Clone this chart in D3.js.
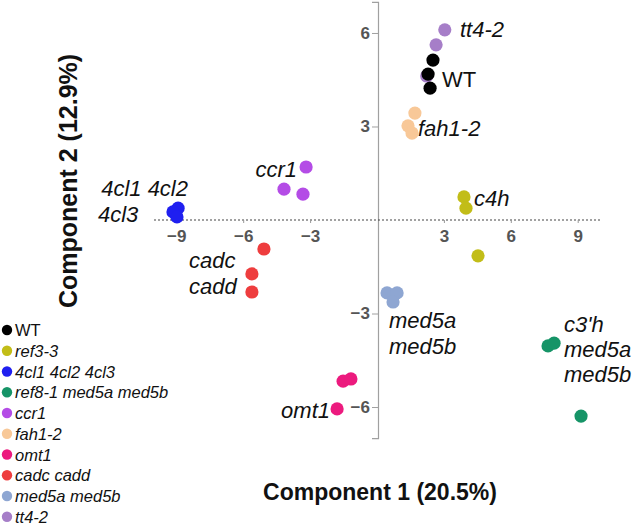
<!DOCTYPE html>
<html><head><meta charset="utf-8">
<script src="https://cdn.jsdelivr.net/npm/d3@7"></script>
<style>body{margin:0;background:#fff}svg{display:block}</style>
</head><body>
<svg id="c" width="633" height="526"></svg>
<script>
// ---- data ----
const groupNames = ["WT","ref3-3","4cl1 4cl2 4cl3","ref8-1 med5a med5b","ccr1","fah1-2","omt1","cadc cadd","med5a med5b","tt4-2"];
const groupColors = ["#000000","#c2bd18","#1f1ff0","#169467","#b44ce6","#f8c898","#ec1a7e","#ee3d3e","#8ea6d2","#a67ec8"];
const pointGroup = ["tt4-2","tt4-2","tt4-2",
  "WT","WT","WT",
  "ref3-3","ref3-3","ref3-3",
  "4cl1 4cl2 4cl3","4cl1 4cl2 4cl3","4cl1 4cl2 4cl3",
  "ref8-1 med5a med5b","ref8-1 med5a med5b","ref8-1 med5a med5b",
  "ccr1","ccr1","ccr1",
  "fah1-2","fah1-2","fah1-2",
  "omt1","omt1","omt1",
  "cadc cadd","cadc cadd","cadc cadd",
  "med5a med5b","med5a med5b","med5a med5b"];
const pc1 = [3.04,2.65,2.23, 2.51,2.29,2.38, 3.90,3.99,4.53, -8.92,-9.15,-8.97, 7.67,7.94,9.15, -3.18,-4.17,-3.32, 1.70,1.39,1.57, -1.52,-1.17,-1.79, -5.07,-5.61,-5.61, 0.45,0.90,0.72];
const pc2 = [6.10,5.62,4.62, 5.13,4.68,4.23, 0.74,0.38,-1.15, 0.38,0.26,0.10, -4.04,-3.95,-6.29, 1.70,0.99,0.83, 3.43,3.02,2.79, -5.17,-5.10,-6.06, -0.93,-1.73,-2.31, -2.34,-2.34,-2.63];
const xTicks = [-9,-6,-3,3,6,9];
const yTicks = [6,3,-3,-6];
const xTitle = "Component 1 (20.5%)";
const yTitle = "Component 2 (12.9%)";

// ---- chart ----
const svg = d3.select("#c");
const x = d3.scaleLinear().domain([-10,10]).range([154,600]);
const y = d3.scaleLinear().domain([-7,7]).range([438.2,1.8]);
const color = d3.scaleOrdinal().domain(groupNames).range(groupColors);
const font = "'Liberation Sans', Arial, sans-serif";

// vertical axis (x = 0)
const yAxis = d3.axisLeft(y).tickValues(yTicks).tickSize(6).tickPadding(2).tickFormat(d3.format("d"));
const gy = svg.append("g").attr("transform", `translate(${x(0)+1},0)`).call(yAxis);
gy.select(".domain").attr("stroke","#a0a0a0").attr("stroke-width",1.2);
gy.selectAll(".tick line").attr("stroke","#a0a0a0");
gy.selectAll(".tick text").attr("font-family",font).attr("font-weight","bold").attr("font-size",17).attr("fill","#555");

// horizontal dotted axis (y = 0)
const xAxis = d3.axisBottom(x).tickValues(xTicks).tickSize(3).tickPadding(7).tickFormat(d3.format("d"));
const gx = svg.append("g").attr("transform", `translate(0,${y(0)})`).call(xAxis);
gx.select(".domain").attr("stroke","#444").attr("stroke-dasharray","2,2").attr("stroke-width",1.2).attr("d",`M${x(-10)},0H${x(10)}`);
gx.selectAll(".tick line").attr("stroke","#999");
gx.selectAll(".tick text").attr("font-family",font).attr("font-weight","bold").attr("font-size",17).attr("fill","#555");

// points
const pts = pointGroup.map((g,i)=>({g, a:pc1[i], b:pc2[i]}));
svg.append("g").selectAll("circle").data(pts).join("circle")
  .attr("cx", d=>x(d.a)).attr("cy", d=>y(d.b)).attr("r", 6.6)
  .attr("fill", d=>color(d.g));

// in-plot labels
const lab = svg.append("g").attr("font-family",font).attr("font-size",22).attr("fill","#111");
function L(txt, px, py, opts={}){
  const t = lab.append("text").attr("x",px).attr("y",py).text(txt);
  if(opts.italic!==false) t.attr("font-style","italic");
  if(opts.anchor) t.attr("text-anchor",opts.anchor);
}
L("tt4-2", 460, 37);
L("WT", 442, 87, {italic:false});
L("fah1-2", 418, 136);
L("c4h", 474, 206);
L("ccr1", 297, 177, {anchor:"end"});
L("4cl1 4cl2", 188, 196, {anchor:"end"});
L("4cl3", 98, 222);
L("cadc", 189, 268);
L("cadd", 189, 294);
L("med5a", 389, 328);
L("med5b", 389, 354);
L("c3'h", 564, 332);
L("med5a", 564, 357);
L("med5b", 564, 382);
L("omt1", 330, 418, {anchor:"end"});

// axis titles
svg.append("text").attr("x",380).attr("y",500).attr("text-anchor","middle")
  .attr("font-family",font).attr("font-weight","bold").attr("font-size",23).attr("fill","#111").text(xTitle);
svg.append("text").attr("transform","translate(77,181) rotate(-90)").attr("text-anchor","middle")
  .attr("font-family",font).attr("font-weight","bold").attr("font-size",25).attr("fill","#111").text(yTitle);

// legend
const lg = svg.append("g").attr("font-family",font).attr("font-size",16.5);
groupNames.forEach((g,i)=>{
  const cy = 330 + i*20.75;
  lg.append("circle").attr("cx",7).attr("cy",cy).attr("r",5.2).attr("fill",groupColors[i]);
  lg.append("text").attr("x",15).attr("y",cy+6).attr("fill","#111")
    .attr("font-style", g==="WT" ? "normal" : "italic").text(g);
});
</script>
</body></html>
